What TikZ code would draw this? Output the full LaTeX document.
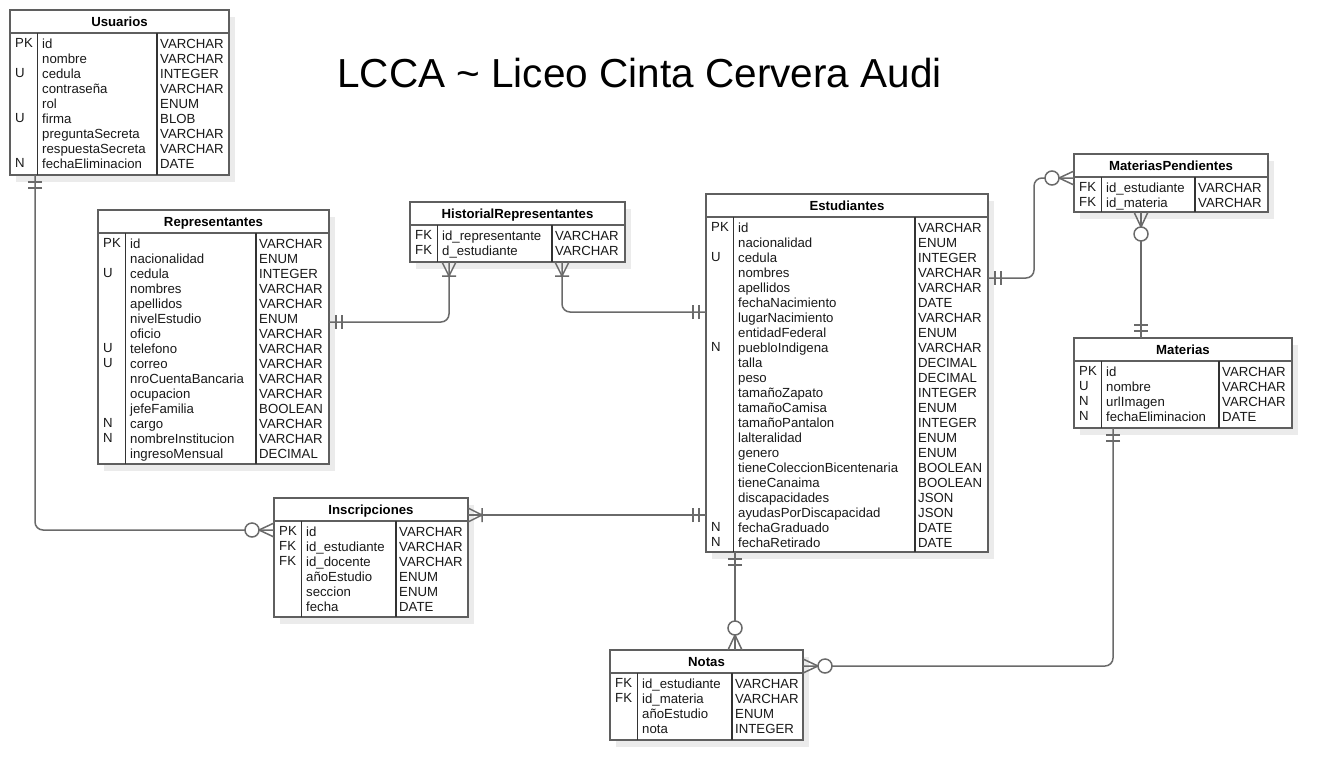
\documentclass[tikz,border=0pt]{standalone}
\usepackage{fontspec}
\setmainfont{Liberation Sans}
\usetikzlibrary{shadows}

\definecolor{linegray}{HTML}{5F5F5F}
\definecolor{conngray}{HTML}{6A6A6A}
\definecolor{shadowgray}{HTML}{EBEBEB}

\tikzset{
  tbl/.style={draw=linegray, line width=1.8pt, fill=white, inner sep=0pt, outer sep=0pt,
    anchor=north west, drop shadow={shadow xshift=6pt, shadow yshift=-7pt, fill=shadowgray, opacity=1}},
  hline/.style={draw=linegray, line width=1.8pt},
  divline/.style={draw=black!80, line width=1.2pt},
  ttl/.style={font=\fontsize{13.2}{15}\selectfont\bfseries, inner sep=0pt, anchor=base},
  col/.style={font=\fontsize{13.2}{15}\selectfont, align=left, anchor=north west, inner sep=0pt, text=black!90},
  conn/.style={draw=conngray, line width=1.5pt},
}

% table: name, top left, width, height, type column, title, keys, fields, types
\newcommand{\ertable}[9]{%
  \node[tbl, minimum width=#3pt, minimum height=#4pt] (#1) at #2 {};
  \draw[hline] ([yshift=-23pt]#1.north west) -- ([yshift=-23pt]#1.north east);
  \draw[divline] ([xshift=27.5pt,yshift=-23pt]#1.north west) -- ([xshift=27.5pt]#1.south west);
  \draw[divline] ([xshift=#5pt,yshift=-23pt]#1.north west) -- ([xshift=#5pt]#1.south west);
  \node[ttl] (#1-t) at ([yshift=-16pt]#1.north) {#6};
  \node[col] (#1-k) at ([xshift=5pt,yshift=-28.6pt]#1.north west) {#7};
  \node[col] (#1-f) at ([xshift=32pt,yshift=-28.6pt]#1.north west) {#8};
  \node[col] (#1-d) at ([xshift={#5pt+3pt},yshift=-28.6pt]#1.north west) {#9};
}

% relation ends, drawn outward from the table
\newcommand{\erOne}[2]{\begin{scope}[shift={(#1)},rotate=#2]
  \draw[conn] (7,-7) -- (7,7) (13,-7) -- (13,7);\end{scope}}
\newcommand{\erMany}[2]{\begin{scope}[shift={(#1)},rotate=#2]
  \draw[conn] (0,-7) -- (14,0) -- (0,7) (14,-7) -- (14,7);\end{scope}}
\newcommand{\erZeroMany}[2]{\begin{scope}[shift={(#1)},rotate=#2]
  \draw[conn] (0,-7) -- (15,0) -- (0,7);
  \draw[conn,fill=white] (22,0) circle (7pt);\end{scope}}

\begin{document}
\begin{tikzpicture}[x=1pt,y=-1pt]
  \path[fill=white, use as bounding box] (0,0) rectangle (1332,780);

  \node[font=\fontsize{40.5}{48}\selectfont, inner sep=0pt] (title) at (639.5,73) {LCCA \textasciitilde{} Liceo Cinta Cervera Audi};

  \ertable{usu}{(10,10)}{219}{165}{147}{Usuarios}
    {PK\\ \\U\\ \\ \\U\\ \\ \\N}
    {id\\nombre\\cedula\\contraseña\\rol\\firma\\preguntaSecreta\\respuestaSecreta\\fechaEliminacion}
    {VARCHAR\\VARCHAR\\INTEGER\\VARCHAR\\ENUM\\BLOB\\VARCHAR\\VARCHAR\\DATE}

  \ertable{rep}{(98,210)}{231}{254}{158}{Representantes}
    {PK\\ \\U\\ \\ \\ \\ \\U\\U\\ \\ \\ \\N\\N\\ }
    {id\\nacionalidad\\cedula\\nombres\\apellidos\\nivelEstudio\\oficio\\telefono\\correo\\nroCuentaBancaria\\ocupacion\\jefeFamilia\\cargo\\nombreInstitucion\\ingresoMensual}
    {VARCHAR\\ENUM\\INTEGER\\VARCHAR\\VARCHAR\\ENUM\\VARCHAR\\VARCHAR\\VARCHAR\\VARCHAR\\VARCHAR\\BOOLEAN\\VARCHAR\\VARCHAR\\DECIMAL}

  \ertable{hist}{(410,202)}{215}{60}{142}{HistorialRepresentantes}
    {FK\\FK}
    {id\_representante\\d\_estudiante}
    {VARCHAR\\VARCHAR}

  \ertable{est}{(706,194)}{282}{358}{209}{Estudiantes}
    {PK\\ \\U\\ \\ \\ \\ \\ \\N\\ \\ \\ \\ \\ \\ \\ \\ \\ \\ \\ \\N\\N}
    {id\\nacionalidad\\cedula\\nombres\\apellidos\\fechaNacimiento\\lugarNacimiento\\entidadFederal\\puebloIndigena\\talla\\peso\\tamañoZapato\\tamañoCamisa\\tamañoPantalon\\lalteralidad\\genero\\tieneColeccionBicentenaria\\tieneCanaima\\discapacidades\\ayudasPorDiscapacidad\\fechaGraduado\\fechaRetirado}
    {VARCHAR\\ENUM\\INTEGER\\VARCHAR\\VARCHAR\\DATE\\VARCHAR\\ENUM\\VARCHAR\\DECIMAL\\DECIMAL\\INTEGER\\ENUM\\INTEGER\\ENUM\\ENUM\\BOOLEAN\\BOOLEAN\\JSON\\JSON\\DATE\\DATE}

  \ertable{mp}{(1074,154)}{194}{58}{121}{MateriasPendientes}
    {FK\\FK}
    {id\_estudiante\\id\_materia}
    {VARCHAR\\VARCHAR}

  \ertable{mat}{(1074,338)}{218}{90}{145}{Materias}
    {PK\\U\\N\\N}
    {id\\nombre\\urlImagen\\fechaEliminacion}
    {VARCHAR\\VARCHAR\\VARCHAR\\DATE}

  \ertable{insc}{(274,498)}{194}{119}{122}{Inscripciones}
    {PK\\FK\\FK}
    {id\\id\_estudiante\\id\_docente\\añoEstudio\\seccion\\fecha}
    {VARCHAR\\VARCHAR\\VARCHAR\\ENUM\\ENUM\\DATE}

  \ertable{notas}{(610,650)}{193}{90}{122}{Notas}
    {FK\\FK}
    {id\_estudiante\\id\_materia\\añoEstudio\\nota}
    {VARCHAR\\VARCHAR\\ENUM\\INTEGER}

  % connection points
  \coordinate (usu-s)   at ([xshift=25pt]usu.south west);
  \coordinate (insc-w)  at ([yshift=-32pt]insc.north west);
  \coordinate (rep-e)   at ([yshift=-112pt]rep.north east);
  \coordinate (hist-s1) at ([xshift=39pt]hist.south west);
  \coordinate (hist-s2) at ([xshift=152pt]hist.south west);
  \coordinate (est-w1)  at ([yshift=-118pt]est.north west);
  \coordinate (insc-e)  at ([yshift=-17pt]insc.north east);
  \coordinate (est-w2)  at ([yshift=-321pt]est.north west);
  \coordinate (est-e)   at ([yshift=-84pt]est.north east);
  \coordinate (mp-w)    at ([yshift=-24pt]mp.north west);
  \coordinate (mp-s)    at ([xshift=67pt]mp.south west);
  \coordinate (mat-n)   at ([xshift=67pt]mat.north west);
  \coordinate (est-s)   at ([xshift=29pt]est.south west);
  \coordinate (notas-n) at ([xshift=125pt]notas.north west);
  \coordinate (mat-s)   at ([xshift=39pt]mat.south west);
  \coordinate (notas-e) at ([yshift=-16pt]notas.north east);

  \draw[conn, rounded corners=8pt] (usu-s) |- (insc-w);
  \draw[conn, rounded corners=8pt] (rep-e) -| (hist-s1);
  \draw[conn, rounded corners=8pt] (hist-s2) |- (est-w1);
  \draw[conn] (insc-e) -- (est-w2);
  \draw[conn, rounded corners=8pt] (est-e) -- ++(46,0) |- (mp-w);
  \draw[conn] (mp-s) -- (mat-n);
  \draw[conn] (est-s) -- (notas-n);
  \draw[conn, rounded corners=8pt] (mat-s) |- (notas-e);

  \erOne{usu-s}{-90}      \erZeroMany{insc-w}{180}
  \erOne{rep-e}{0}        \erMany{hist-s1}{-90}
  \erMany{hist-s2}{-90}   \erOne{est-w1}{180}
  \erMany{insc-e}{0}      \erOne{est-w2}{180}
  \erOne{est-e}{0}        \erZeroMany{mp-w}{180}
  \erZeroMany{mp-s}{-90}  \erOne{mat-n}{90}
  \erOne{est-s}{-90}      \erZeroMany{notas-n}{90}
  \erOne{mat-s}{-90}      \erZeroMany{notas-e}{0}
\end{tikzpicture}
\end{document}
